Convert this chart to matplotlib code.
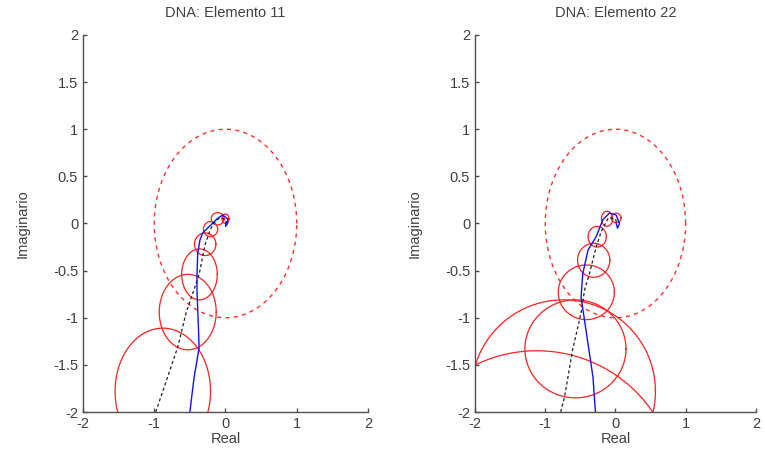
import matplotlib.pyplot as plt
import numpy as np

plt.rcParams['font.family'] = ['Liberation Sans', 'DejaVu Sans']
plt.rcParams['axes.unicode_minus'] = False

# --- Elemento 11 ---
blue11_x = [-0.50, -0.44, -0.37, -0.38, -0.40, -0.40, -0.39, -0.36, -0.32, -0.225, -0.11, -0.04, 0.03, 0.03, 0.00, 0.01, 0.02]
blue11_y = [-2.00, -1.63, -1.32, -1.10, -0.71, -0.55, -0.32, -0.18, -0.10, -0.03, 0.055, 0.09, 0.05, 0.00, -0.03, 0.02, 0.00]
black11_x = [-0.98, -0.88, -0.67, -0.55, -0.45, -0.37, -0.32, -0.285, -0.21, -0.13, -0.05, 0.00]
black11_y = [-2.00, -1.78, -1.31, -0.94, -0.72, -0.54, -0.35, -0.22, -0.06, 0.04, 0.06, 0.03]
circ11_cx = [-0.88, -0.53, -0.365, -0.285, -0.21, -0.11, 0.00]
circ11_cy = [-1.78, -0.94, -0.54, -0.22, -0.06, 0.05, 0.05]
circ11_rx = [0.67, 0.40, 0.25, 0.15, 0.10, 0.09, 0.05]
circ11_ry = [0.67, 0.40, 0.27, 0.12, 0.08, 0.065, 0.05]

# --- Elemento 22 ---
blue22_x = [-0.285, -0.32, -0.42, -0.49, -0.465, -0.39, -0.275, -0.18, -0.085, 0.01, 0.057, 0.03, 0.01]
blue22_y = [-2.00, -1.63, -1.13, -0.78, -0.53, -0.28, -0.14, 0.04, 0.11, 0.09, 0.00, -0.05, 0.00]
black22_x = [-0.78, -0.725, -0.61, -0.49, -0.44, -0.37, -0.275, -0.20, -0.10, 0.00, 0.02]
black22_y = [-2.00, -1.84, -1.34, -0.95, -0.705, -0.53, -0.25, -0.08, 0.06, 0.05, 0.00]
circ22_cx = [-1.12, -0.74, -0.57, -0.415, -0.31, -0.26, -0.12, 0.01]
circ22_cy = [-2.82, -1.78, -1.33, -0.73, -0.39, -0.14, 0.05, 0.06]
circ22_rx = [1.99, 1.31, 0.72, 0.40, 0.23, 0.13, 0.08, 0.07]
circ22_ry = [1.47, 0.97, 0.52, 0.29, 0.18, 0.11, 0.08, 0.05]

titles = ['DNA: Elemento 11', 'DNA: Elemento 22']
xticks = [-2, -1, 0, 1, 2]
yticks = [-2, -1.5, -1, -0.5, 0, 0.5, 1, 1.5, 2]

fig = plt.figure(figsize=(7.65, 4.55), dpi=100)
ax1 = fig.add_axes([0.1085, 0.0945, 0.3725, 0.8286])
ax2 = fig.add_axes([0.621, 0.0945, 0.367, 0.8286])

t = np.linspace(0, 2 * np.pi, 400)
panels = [
    (ax1, blue11_x, blue11_y, black11_x, black11_y, circ11_cx, circ11_cy, circ11_rx, circ11_ry),
    (ax2, blue22_x, blue22_y, black22_x, black22_y, circ22_cx, circ22_cy, circ22_rx, circ22_ry),
]
for i, (ax, bx, by, kx, ky, cx, cy, rx, ry) in enumerate(panels):
    # unit circle
    ax.plot(np.cos(t), np.sin(t), color='#ff3030', ls=(0, (3, 3)), lw=1.0)
    for x0, y0, a, b in zip(cx, cy, rx, ry):
        ax.plot(x0 + a * np.cos(t), y0 + b * np.sin(t), color='#ff2020', lw=0.9)
    ax.plot(kx, ky, color='#202020', ls=(0, (2.5, 2)), lw=0.9)
    ax.plot(bx, by, color='#1010ff', lw=1.0)
    ax.set_xlim(-2, 2)
    ax.set_ylim(-2, 2)
    ax.set_xticks(xticks)
    ax.set_yticks(yticks)
    ax.set_yticklabels(['-2', '-1.5', '-1', '-0.5', '0', '0.5', '1', '1.5', '2'])
    ax.spines['top'].set_visible(False)
    ax.spines['right'].set_visible(False)
    for s in ['left', 'bottom']:
        ax.spines[s].set_color('#505050')
        ax.spines[s].set_linewidth(1.0)
    ax.tick_params(direction='in', length=3, width=1, colors='#505050', labelsize=10.5, labelcolor='#404040')
    ax.set_title(titles[i], fontsize=10.5, color='#404040', pad=13)
    ax.set_xlabel('Real', fontsize=10.5, color='#404040', labelpad=1)
    ax.set_ylabel('Imaginario', fontsize=10.5, color='#404040', labelpad=17)

fig.savefig('out.png', dpi=100)
